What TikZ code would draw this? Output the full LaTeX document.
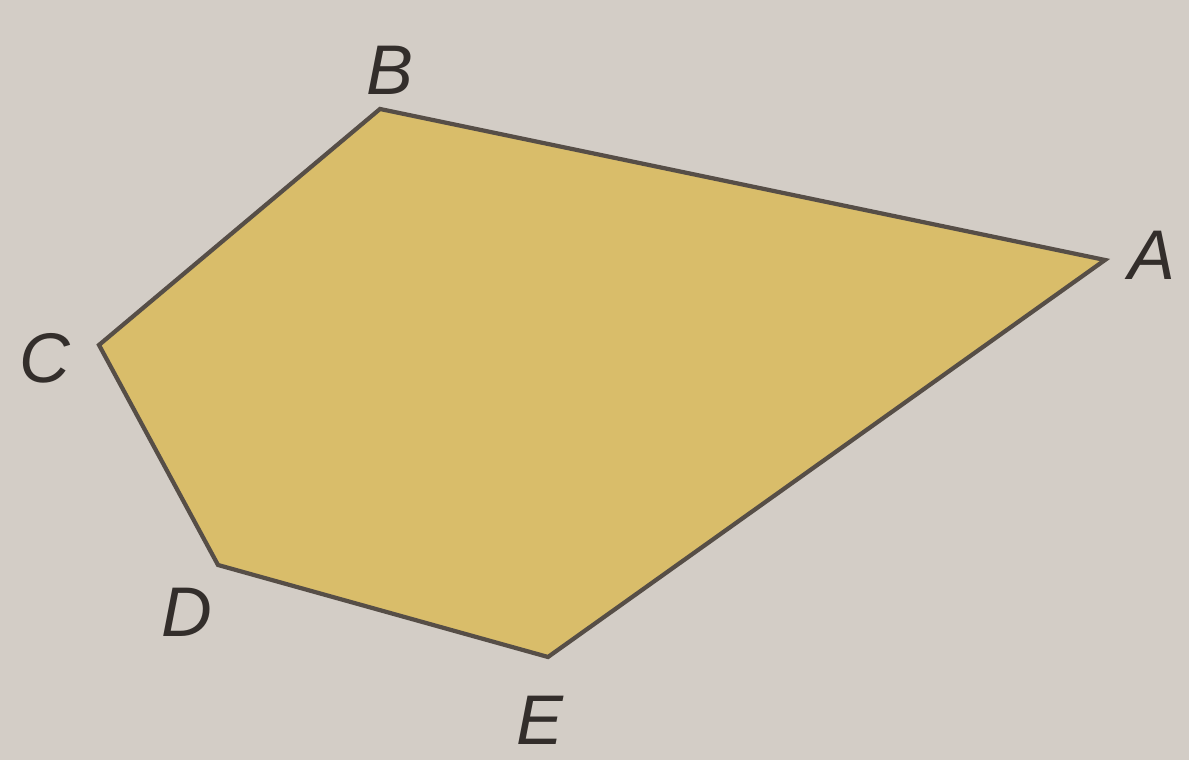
\documentclass[tikz,border=0pt]{standalone}
\usepackage{fontspec}
\setmainfont{Liberation Sans}
\usepackage{tikz}
\usetikzlibrary{positioning, calc}
\definecolor{papergray}{HTML}{D3CDC6}
\definecolor{facefill}{HTML}{D9BD6A}
\definecolor{edgegray}{HTML}{564E47}
\definecolor{labeltext}{HTML}{332E2B}

\begin{document}
\begin{tikzpicture}[
    vlabel/.style={
      inner sep=0pt, text=labeltext,
      font=\fontsize{20}{22}\selectfont\itshape
    },
    face/.style={
      draw=edgegray, line width=1.2pt, line join=miter,
      fill=facefill
    }
  ]

  % paper background fixes the size
  \fill[papergray] (0,0) rectangle (11.89,7.6);
  \useasboundingbox (0,0) rectangle (11.89,7.6);

  % corners of the pentagon
  \coordinate (A) at (11.05,5.00);
  \coordinate (B) at (3.80,6.51);
  \coordinate (C) at (0.99,4.15);
  \coordinate (D) at (2.18,1.95);
  \coordinate (E) at (5.48,1.03);

  \draw[face] (A) -- (B) -- (C) -- (D) -- (E) -- cycle;

  \node[vlabel] (labA) at (11.52,5.05) {A};
  \node[vlabel] (labB) at (3.90,6.90) {B};
  \node[vlabel] (labC) at (0.45,4.02) {C};
  \node[vlabel] (labD) at (1.87,1.48) {D};
  \node[vlabel] (labE) at (5.40,0.40) {E};

\end{tikzpicture}
\end{document}
